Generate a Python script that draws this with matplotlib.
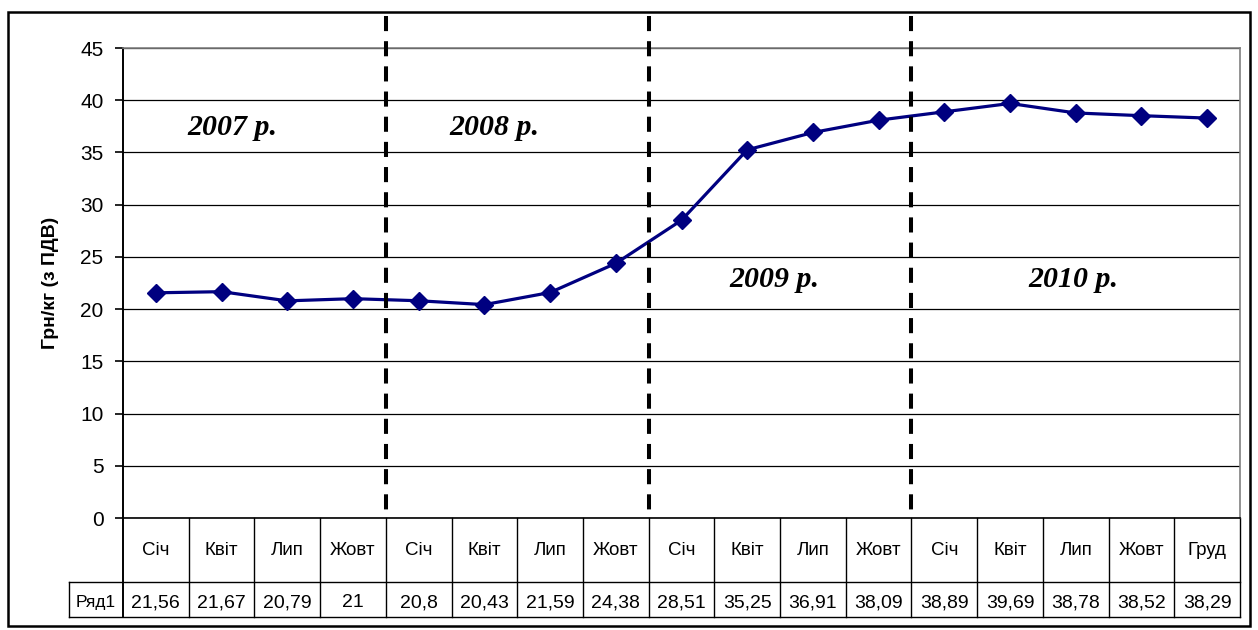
import matplotlib.pyplot as plt
import matplotlib.transforms as mtransforms
from matplotlib.patches import Rectangle

# Data
months = ['Січ', 'Квіт', 'Лип', 'Жовт', 'Січ', 'Квіт', 'Лип', 'Жовт',
          'Січ', 'Квіт', 'Лип', 'Жовт', 'Січ', 'Квіт', 'Лип', 'Жовт', 'Груд']
values = [21.56, 21.67, 20.79, 21, 20.8, 20.43, 21.59, 24.38,
          28.51, 35.25, 36.91, 38.09, 38.89, 39.69, 38.78, 38.52, 38.29]
value_labels = ['21,56', '21,67', '20,79', '21', '20,8', '20,43', '21,59', '24,38',
                '28,51', '35,25', '36,91', '38,09', '38,89', '39,69', '38,78', '38,52', '38,29']
series_name = 'Ряд1'
years = ['2007 р.', '2008 р.', '2009 р.', '2010 р.']
year_pos = [(1.16, 37.4), (5.15, 37.4), (9.42, 22.8), (13.96, 22.8)]
dividers = [3.5, 7.5, 11.5]

plt.rcParams['font.family'] = ['Liberation Sans', 'DejaVu Sans']

W, H = 1258, 630
fig = plt.figure(figsize=(W / 100, H / 100), dpi=100)

# plot area in pixels
L, R, T, B = 123, 1240, 48, 518
ax = fig.add_axes([L / W, 1 - B / H, (R - L) / W, (B - T) / H])

x = list(range(len(values)))
ax.plot(x, values, color='#000080', lw=2.3, marker='D', ms=9, zorder=5)

ax.set_xlim(-0.5, len(values) - 0.5)
ax.set_ylim(0, 45)
ax.set_yticks(range(0, 46, 5))
ax.yaxis.grid(True, color='black', lw=0.9)
ax.set_axisbelow(True)
ax.set_xticks([])
ax.tick_params(axis='y', length=6, width=1.2, labelsize=15, pad=8)
ax.spines['left'].set_linewidth(1.4)
ax.spines['bottom'].set_linewidth(1.2)
for s in ['top', 'right']:
    ax.spines[s].set_color('#808080')
    ax.spines[s].set_linewidth(1.2)

ax.set_ylabel('Грн/кг (з ПДВ)', fontsize=14, fontweight='bold', labelpad=15)

# dashed year dividers (drawn top-down so the dash pattern starts at the top)
trans = mtransforms.blended_transform_factory(ax.transData, ax.transAxes)
top_ax = (B - 16) / (B - T)
for d in dividers:
    ax.plot([d, d], [top_ax, 0], transform=trans,
            color='black', lw=2.9, dashes=(3.75, 2.5), clip_on=False, zorder=6)

# year labels
for label, (px, py) in zip(years, year_pos):
    ax.text(px, py, label, ha='center', va='center', fontsize=21.5,
            family='Liberation Serif', fontweight='bold', style='italic')

# data table below the axis
hpx = B - T
y_mid = -(582 - B) / hpx
y_bot = -(617 - B) / hpx
y_cat = -(555 - B) / hpx
y_val = -(607 - B) / hpx
n = len(values)
for i in range(1, n + 1):
    ax.plot([i - 0.5, i - 0.5], [0, y_bot], transform=trans, color='black', lw=1, clip_on=False)
x_left = -0.5 - (L - 69) / ((R - L) / n)
for yy in [y_mid, y_bot]:
    ax.plot([x_left, n - 0.5], [yy, yy], transform=trans, color='black', lw=1, clip_on=False)
ax.plot([x_left, x_left], [y_mid, y_bot], transform=trans, color='black', lw=1, clip_on=False)
ax.plot([-0.5, -0.5], [0, y_bot], transform=trans, color='black', lw=1.4, clip_on=False)

for i, (m, v) in enumerate(zip(months, value_labels)):
    ax.text(i, y_cat, m, transform=trans, ha='center', va='baseline', fontsize=13.5)
    ax.text(i, y_val, v, transform=trans, ha='center', va='baseline', fontsize=14)
ax.text((x_left - 0.5) / 2, y_val, series_name, transform=trans, ha='center', va='baseline', fontsize=12.5)

# outer chart border
fig.patches.append(Rectangle((8 / W, 1 - 626 / H), (1250 - 8) / W, (626 - 12) / H,
                             transform=fig.transFigure, fill=False, ec='black', lw=1.8))

fig.savefig('out.png', dpi=100)
